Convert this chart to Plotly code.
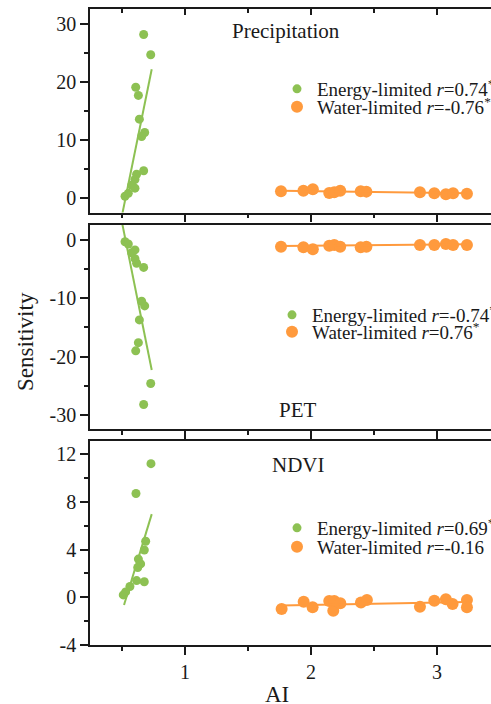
import plotly.graph_objects as go

# ---------------- data ----------------
ai_energy_p = [0.672, 0.728, 0.609, 0.630, 0.638, 0.680, 0.656, 0.672, 0.616, 0.603, 0.577, 0.603, 0.550, 0.524]
sens_energy_p = [28.2, 24.7, 19.1, 17.7, 13.6, 11.3, 10.6, 4.7, 4.1, 3.2, 2.2, 1.7, 0.8, 0.3]
sens_energy_pet = [-28.2, -24.6, -19.0, -17.6, -13.7, -11.3, -10.5, -4.7, -4.0, -3.2, -2.2, -1.7, -0.7, -0.3]

ai_water = [1.762, 1.940, 2.015, 2.145, 2.185, 2.232, 2.395, 2.440, 2.865, 2.979, 3.071, 3.128, 3.238]
sens_water_p = [1.15, 1.26, 1.5, 0.85, 1.0, 1.25, 1.15, 1.1, 0.98, 0.81, 0.65, 0.81, 0.72]
sens_water_pet = [-1.15, -1.25, -1.6, -0.98, -0.88, -1.15, -1.25, -1.15, -0.86, -0.86, -0.7, -0.86, -0.86]

ai_energy_ndvi = [0.730, 0.611, 0.688, 0.677, 0.630, 0.648, 0.625, 0.677, 0.616, 0.563, 0.529, 0.510]
sens_energy_ndvi = [11.2, 8.7, 4.7, 3.96, 3.2, 2.8, 2.5, 1.3, 1.4, 0.9, 0.45, 0.2]
ai_water_ndvi = [1.767, 1.942, 2.013, 2.145, 2.177, 2.185, 2.233, 2.397, 2.444, 2.865, 2.979, 3.071, 3.124, 3.238, 3.238]
sens_water_ndvi = [-0.98, -0.37, -0.84, -0.31, -1.12, -0.31, -0.51, -0.43, -0.23, -0.79, -0.29, -0.17, -0.57, -0.23, -0.84]

# fitted lines (end points)
fit_energy_x = [0.50, 0.736]
fit_energy_p = [-3.0, 22.2]
fit_energy_pet = [3.0, -22.3]
fit_energy_ndvi_x = [0.516, 0.736]
fit_energy_ndvi = [-0.65, 6.97]
fit_water_x = [1.762, 3.238]
fit_water_p = [1.25, 0.80]
fit_water_pet = [-1.05, -0.72]
fit_water_ndvi = [-0.68, -0.40]

panel_titles = ["Precipitation", "PET", "NDVI"]
legend_energy = ["Energy-limited <i>r</i>=0.74<sup>*</sup>",
                 "Energy-limited <i>r</i>=-0.74<sup>*</sup>",
                 "Energy-limited <i>r</i>=0.69<sup>*</sup>"]
legend_water = ["Water-limited <i>r</i>=-0.76<sup>*</sup>",
                "Water-limited <i>r</i>=0.76<sup>*</sup>",
                "Water-limited <i>r</i>=-0.16"]

x_ticks = [1, 2, 3]
x_tick_labels = ["1", "2", "3"]
x_minor = [0.5, 1.5, 2.5, 3.5]
y_ticks = [[0, 10, 20, 30], [0, -10, -20, -30], [-4, 0, 4, 8, 12]]
y_tick_labels = [["0", "10", "20", "30"], ["0", "-10", "-20", "-30"], ["-4", "0", "4", "8", "12"]]
y_minor = [[5, 15, 25], [-5, -15, -25], [-2, 2, 6, 10]]

# ---------------- styling ----------------
GREEN = "#8DC153"
ORANGE = "#FF9A3D"
AX = "#1a1a1a"
FONT = "Liberation Serif"

W, H = 491, 704
panels_px = [(9, 212.5), (224.5, 429), (441, 645)]
y_ranges = [[-2.5, 32.6], [-32.4, 2.65], [-4, 13.1]]
x_range = [0.246, 3.429]
x_left = 90 / W

energy_x = [ai_energy_p, ai_energy_p, ai_energy_ndvi]
energy_y = [sens_energy_p, sens_energy_pet, sens_energy_ndvi]
water_x = [ai_water, ai_water, ai_water_ndvi]
water_y = [sens_water_p, sens_water_pet, sens_water_ndvi]
fit_ex = [fit_energy_x, fit_energy_x, fit_energy_ndvi_x]
fit_ey = [fit_energy_p, fit_energy_pet, fit_energy_ndvi]
fit_wy = [fit_water_p, fit_water_pet, fit_water_ndvi]

# (text-left x, energy item y, water item y) in pixels
legend_pos = [(317, 89, 107), (312, 315, 332), (317, 528, 547)]
title_pos = [(1.357, 28.8), (1.728, -29.2), (1.675, 11.08)]

fig = go.Figure()
layout = dict(
    width=W, height=H,
    margin=dict(l=0, r=0, t=0, b=0, autoexpand=False),
    paper_bgcolor="white", plot_bgcolor="white",
    font=dict(family=FONT, size=19, color=AX),
    showlegend=True,
    annotations=[],
)

for i in range(3):
    xa = "x" if i == 0 else f"x{i+1}"
    ya = "y" if i == 0 else f"y{i+1}"
    leg_e = "legend" if i == 0 else f"legend{2 * i + 1}"
    leg_w = f"legend{2 * i + 2}"
    fig.add_trace(go.Scatter(x=water_x[i], y=water_y[i], mode="markers",
                             marker=dict(color=ORANGE, size=12), name=legend_water[i],
                             xaxis=xa, yaxis=ya, legend=leg_w))
    fig.add_trace(go.Scatter(x=fit_water_x, y=fit_wy[i], mode="lines",
                             line=dict(color=ORANGE, width=2), showlegend=False,
                             xaxis=xa, yaxis=ya))
    fig.add_trace(go.Scatter(x=energy_x[i], y=energy_y[i], mode="markers",
                             marker=dict(color=GREEN, size=9), name=legend_energy[i],
                             xaxis=xa, yaxis=ya, legend=leg_e))
    fig.add_trace(go.Scatter(x=fit_ex[i], y=fit_ey[i], mode="lines",
                             line=dict(color=GREEN, width=2), showlegend=False,
                             xaxis=xa, yaxis=ya))

    top, bot = panels_px[i]
    dom = [1 - bot / H, 1 - top / H]
    xkey = "xaxis" if i == 0 else f"xaxis{i+1}"
    ykey = "yaxis" if i == 0 else f"yaxis{i+1}"
    layout[xkey] = dict(
        domain=[x_left, 1], range=x_range, anchor=ya,
        tickmode="array", tickvals=x_ticks, ticktext=x_tick_labels,
        showticklabels=(i == 2),
        ticks="outside", ticklen=8, tickwidth=1.5, tickcolor=AX,
        minor=dict(tickvals=x_minor, ticks="outside", ticklen=4, tickwidth=1.5, tickcolor=AX),
        showline=True, linecolor=AX, linewidth=1.5, mirror=True,
        showgrid=False, zeroline=False,
        tickfont=dict(family=FONT, size=20, color=AX),
    )
    layout[ykey] = dict(
        domain=dom, range=y_ranges[i], anchor=xa,
        tickmode="array", tickvals=y_ticks[i], ticktext=y_tick_labels[i],
        ticks="outside", ticklen=8, tickwidth=1.5, tickcolor=AX,
        minor=dict(tickvals=y_minor[i], ticks="outside", ticklen=4, tickwidth=1.5, tickcolor=AX),
        showline=True, linecolor=AX, linewidth=1.5, mirror=False,
        showgrid=False, zeroline=False,
        tickfont=dict(family=FONT, size=20, color=AX),
    )
    lx, ly_e, ly_w = legend_pos[i]
    for lname, ly in ((leg_e, ly_e), (leg_w, ly_w)):
        layout[lname] = dict(
            x=(lx - 40) / W, y=1 - ly / H, xanchor="left", yanchor="middle",
            bgcolor="rgba(0,0,0,0)", borderwidth=0, itemsizing="trace",
            font=dict(family=FONT, size=19, color=AX),
        )
    tx, ty = title_pos[i]
    layout["annotations"].append(dict(
        x=tx, y=ty, xref=xa, yref=ya, text=panel_titles[i], showarrow=False,
        xanchor="left", yanchor="middle",
        font=dict(family=FONT, size=21, color=AX)))

# inward ticks on the top edge of the first panel
layout["xaxis4"] = dict(
    overlaying="x", side="top", anchor="y", range=x_range,
    tickvals=x_ticks, showticklabels=False,
    ticks="inside", ticklen=6, tickwidth=1.5, tickcolor=AX,
    minor=dict(tickvals=x_minor, ticks="inside", ticklen=4, tickwidth=1.5, tickcolor=AX),
    showline=True, linecolor=AX, linewidth=1.5, showgrid=False, zeroline=False,
)
fig.add_trace(go.Scatter(x=[None], y=[None], xaxis="x4", yaxis="y", showlegend=False,
                         hoverinfo="skip"))

layout["annotations"].append(dict(
    x=25 / W, y=1 - 342 / H, xref="paper", yref="paper", text="Sensitivity",
    textangle=-90, showarrow=False, xanchor="center", yanchor="middle",
    font=dict(family=FONT, size=23, color=AX)))
layout["annotations"].append(dict(
    x=277 / W, y=1 - 694 / H, xref="paper", yref="paper", text="AI",
    showarrow=False, xanchor="center", yanchor="middle",
    font=dict(family=FONT, size=23, color=AX)))

fig.update_layout(**layout)
fig.write_html("out.html")
